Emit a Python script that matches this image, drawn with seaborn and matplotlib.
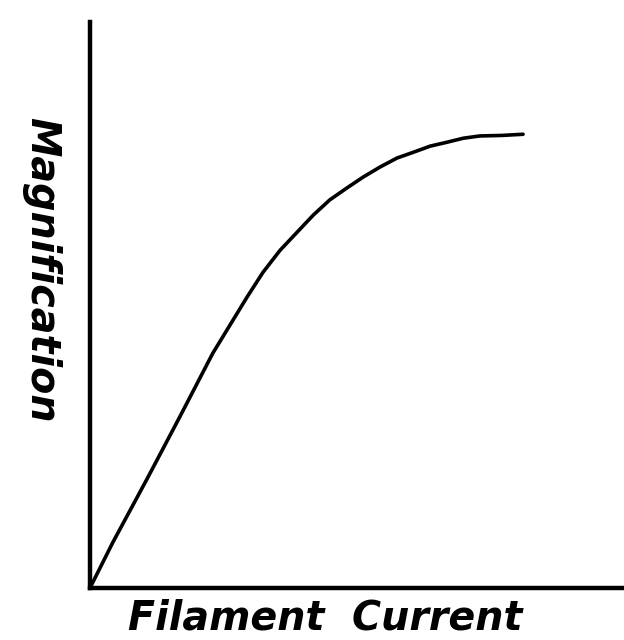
import numpy as np
import pandas as pd
import matplotlib
matplotlib.use("Agg")
import matplotlib.pyplot as plt
import seaborn as sns

# curve (arbitrary units, 0-10 on both axes)
current = [0.0, 0.43, 1.07, 1.69, 2.30, 2.94, 3.24, 3.56, 3.88, 4.18, 4.49, 4.81,
           5.11, 5.43, 5.75, 6.05, 6.37, 6.69, 6.99, 7.30, 7.73, 8.11]
magnification = [0.0, 0.81, 1.93, 3.04, 4.15, 5.14, 5.58, 5.97, 6.29, 6.59, 6.86, 7.07,
                 7.26, 7.44, 7.60, 7.70, 7.81, 7.88, 7.95, 7.99, 8.00, 8.02]

x_label = "Filament  Current"
y_label = "Magnification"

df = pd.DataFrame({"current": current, "magnification": magnification})

sns.set_style("white")
plt.rcParams['font.family'] = ['DejaVu Sans']

fig = plt.figure(figsize=(6.24, 6.4), dpi=100)
ax = fig.add_axes([0.1442, 0.08125, 0.8558, 0.884])

sns.lineplot(data=df, x="current", y="magnification", ax=ax,
             color="black", linewidth=2.6, estimator=None, sort=False)

ax.set_xlim(0, 10)
ax.set_ylim(0, 10)
ax.set_xticks([])
ax.set_yticks([])
ax.set_xlabel("")
ax.set_ylabel("")
sns.despine(ax=ax)
for side in ["left", "bottom"]:
    ax.spines[side].set_linewidth(3.2)
    ax.spines[side].set_color("black")

fig.text(0.521, 0.033, x_label, ha="center", va="center", color="black",
         fontsize=28.5, fontstyle="italic", fontweight="bold")
fig.text(0.066, 0.578, y_label, ha="center", va="center", rotation=270, color="black",
         fontsize=28.5, fontstyle="italic", fontweight="bold")

fig.savefig("out.png", dpi=100, facecolor="white")
